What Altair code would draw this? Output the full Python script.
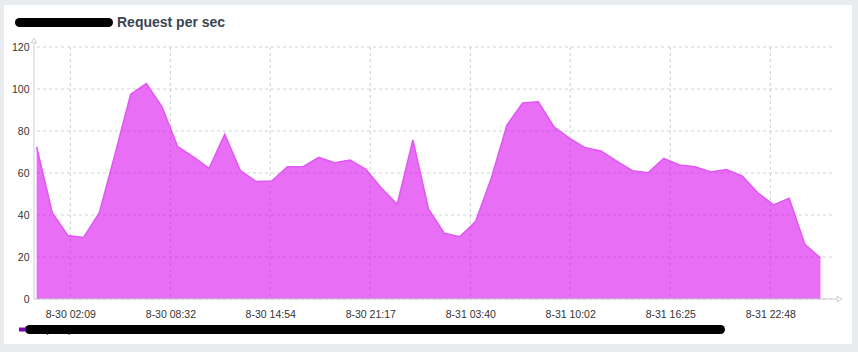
import altair as alt
import pandas as pd

# ---- data ----
values = [72.5, 41.1, 30.2, 29.3, 41.1, 69.0, 97.5, 102.6, 91.5, 72.5,
          67.7, 62.2, 78.4, 61.1, 55.9, 56.2, 63.0, 63.0, 67.5, 64.9,
          66.2, 61.8, 52.7, 45.1, 75.7, 42.8, 31.3, 29.7, 36.9, 57.5,
          82.8, 93.4, 93.9, 82.0, 76.5, 72.0, 70.5, 65.7, 61.1, 60.1,
          67.0, 63.8, 63.0, 60.5, 61.6, 58.6, 50.6, 44.8, 48.0, 26.1, 19.5]
first_time = "2020-08-30 00:00"          # hourly samples
x_tick_times = ["2020-08-30 02:09", "2020-08-30 08:32", "2020-08-30 14:54",
                "2020-08-30 21:17", "2020-08-31 03:40", "2020-08-31 10:02",
                "2020-08-31 16:25", "2020-08-31 22:48"]
x_domain = ["2020-08-29 23:50", "2020-09-01 02:44"]
y_ticks = [0, 20, 40, 60, 80, 100, 120]
series_name = "Request per sec"
title_text = "Request per sec"

times = pd.date_range(first_time, periods=len(values), freq="h")
df = pd.DataFrame({"time": times, "value": values, "series": series_name})
grid_x = pd.DataFrame({"time": pd.to_datetime(x_tick_times)})
grid_y = pd.DataFrame({"value": y_ticks})
one = pd.DataFrame({"k": [1]})


def dt(s):
    t = pd.Timestamp(s)
    return alt.DateTime(year=t.year, month=t.month, date=t.day,
                        hours=t.hour, minutes=t.minute)


W, H = 798, 252
FONT = "Liberation Sans"
AX = "#c9ced4"
GRID = "#ccd1d6"

x_scale = alt.Scale(domain=[dt(s) for s in x_domain])
y_scale = alt.Scale(domain=[0, 120])
x_axis = alt.Axis(values=[dt(s) for s in x_tick_times], format="%-m-%d %H:%M",
                  grid=False, domain=False, ticks=False, labelPadding=10,
                  labelFontSize=10.5, labelColor="#333333", labelFont=FONT,
                  title=None, zindex=1, labelFlush=False)
y_axis = alt.Axis(values=y_ticks, grid=False, domain=False, ticks=False,
                  labelPadding=5, labelFontSize=10.5, labelColor="#333333",
                  labelFont=FONT, title=None, zindex=1)

X = alt.X("time:T", scale=x_scale, axis=x_axis)
Y = alt.Y("value:Q", scale=y_scale, axis=y_axis)

# legend carrier (hidden beneath the white panel)
legend_line = alt.Chart(df).mark_line(strokeWidth=1).encode(
    x=X, y=Y,
    color=alt.Color("series:N", scale=alt.Scale(range=["#8000c0"]),
                    legend=alt.Legend(orient="none", legendX=-17, legendY=277,
                                      title=None, symbolType="stroke",
                                      symbolStrokeWidth=4, symbolSize=49,
                                      labelColor="black", labelFontSize=9,
                                      labelFont=FONT, padding=0)))

panel = alt.Chart(one).mark_rect(fill="white").encode(
    x=alt.value(-30), x2=alt.value(818), y=alt.value(-42), y2=alt.value(297))

hgrid = alt.Chart(grid_y).mark_rule(color=GRID, strokeDash=[3, 3], strokeWidth=1).encode(y=Y)
vgrid = alt.Chart(grid_x).mark_rule(color=GRID, strokeDash=[3, 3], strokeWidth=1).encode(x=X)

area = alt.Chart(df).mark_area(fill="#d90dee", fillOpacity=0.6).encode(x=X, y=Y)
edge = alt.Chart(df).mark_line(stroke="#e157f4", strokeWidth=1.5).encode(x=X, y=Y)

title_blob = alt.Chart(one).mark_rule(color="black", strokeWidth=9, strokeCap="round").encode(
    x=alt.value(-14.5), x2=alt.value(74.5), y=alt.value(-24.5))
legend_blob = alt.Chart(one).mark_rule(color="black", strokeWidth=9, strokeCap="round").encode(
    x=alt.value(-4.5), x2=alt.value(686.5), y=alt.value(282.5))

y_line = alt.Chart(one).mark_rule(color=AX, strokeWidth=1).encode(
    x=alt.value(0), y=alt.value(-4), y2=alt.value(H))
x_line = alt.Chart(one).mark_rule(color=AX, strokeWidth=1).encode(
    x=alt.value(0), x2=alt.value(803), y=alt.value(H))
y_arrow = alt.Chart(one).mark_point(shape="triangle-up", filled=False, size=30,
                                    color=AX, strokeWidth=1, opacity=1).encode(
    x=alt.value(0), y=alt.value(-6.5))
x_arrow = alt.Chart(one).mark_point(shape="triangle-right", filled=False, size=30,
                                    color=AX, strokeWidth=1, opacity=1).encode(
    x=alt.value(805.5), y=alt.value(H))

chart = alt.layer(
    legend_line, panel, hgrid, vgrid, area, edge, title_blob, legend_blob,
    y_line, x_line, y_arrow, x_arrow
).properties(
    width=W, height=H,
    autosize=alt.AutoSizeParams(type="none"),
    padding={"left": 34, "top": 47, "right": 26, "bottom": 53},
    background="#e9ecef",
    title=alt.TitleParams(text=title_text, anchor="start", frame="group",
                          fontSize=14, fontWeight="bold", font=FONT,
                          color="#3b4550", dx=83, offset=-36,
                          baseline="alphabetic"),
).configure_view(stroke=None)

chart.save("out.html", embed_options={"renderer": "svg", "actions": False})
